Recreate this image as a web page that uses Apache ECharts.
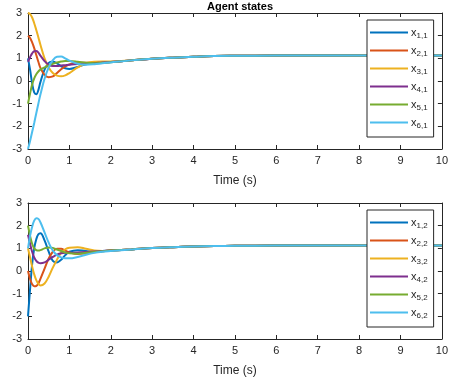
<!DOCTYPE html>
<html><head><meta charset="utf-8">
<script src="https://cdn.jsdelivr.net/npm/echarts@6/dist/echarts.min.js"></script>
<style>html,body{margin:0;padding:0;background:#fff}#c{width:451px;height:382px}</style>
</head><body><div id="c"></div>
<script>
const time = [0,0.05,0.1,0.15,0.2,0.25,0.3,0.4,0.5,0.6,0.7,0.8,0.9,1.0,1.2,1.4,1.6,1.8,2,2.5,3,3.5,4,4.5,5,6,7,8,9,10];
const tailTop = [0.91,0.98,1.03,1.07,1.10,1.11,1.12,1.12,1.12,1.12,1.12];
const tailBot = [0.95,1.01,1.05,1.08,1.10,1.11,1.12,1.12,1.12,1.12,1.12];

const x11 = [1.0,0.5,-0.1,-0.5,-0.58,-0.4,-0.05,0.5,0.8,0.85,0.78,0.65,0.56,0.53,0.62,0.74,0.79,0.82,0.84];
const x21 = [2.0,1.9,1.7,1.45,1.15,0.85,0.58,0.27,0.17,0.2,0.35,0.52,0.65,0.73,0.8,0.8,0.8,0.82,0.84];
const x31 = [3.0,2.95,2.8,2.55,2.25,1.93,1.6,1.0,0.6,0.35,0.24,0.21,0.25,0.35,0.6,0.78,0.85,0.86,0.86];
const x41 = [0.85,1.05,1.22,1.31,1.32,1.25,1.12,0.88,0.72,0.66,0.66,0.68,0.7,0.72,0.75,0.77,0.79,0.82,0.84];
const x51 = [-1.0,-0.55,-0.15,0.12,0.3,0.42,0.5,0.6,0.68,0.76,0.82,0.86,0.88,0.88,0.85,0.8,0.78,0.8,0.83];
const x61 = [-3.0,-2.65,-2.25,-1.85,-1.42,-1.0,-0.6,0.1,0.6,0.92,1.07,1.08,1.0,0.9,0.76,0.72,0.74,0.78,0.82];

const x12 = [-2.0,-0.8,0.3,1.0,1.4,1.62,1.67,1.35,0.85,0.45,0.38,0.5,0.7,0.85,0.92,0.88,0.86,0.88,0.9];
const x22 = [0.0,-0.35,-0.58,-0.67,-0.66,-0.55,-0.35,0.1,0.55,0.85,0.98,0.98,0.9,0.82,0.75,0.78,0.83,0.87,0.9];
const x32 = [1.0,0.6,0.2,-0.15,-0.4,-0.56,-0.64,-0.55,-0.25,0.15,0.5,0.8,0.96,1.03,1.05,0.98,0.9,0.88,0.9];
const x42 = [1.6,1.2,0.85,0.6,0.45,0.37,0.34,0.38,0.5,0.62,0.72,0.78,0.8,0.8,0.82,0.84,0.86,0.88,0.9];
const x52 = [2.0,1.55,1.2,1.0,0.92,0.9,0.92,1.0,1.04,1.02,0.95,0.88,0.82,0.78,0.76,0.8,0.84,0.87,0.9];
const x62 = [1.0,1.55,1.95,2.22,2.33,2.3,2.15,1.7,1.25,0.9,0.7,0.6,0.56,0.56,0.62,0.72,0.8,0.85,0.88];

const namesTop = ['x1,1','x2,1','x3,1','x4,1','x5,1','x6,1'];
const namesBot = ['x1,2','x2,2','x3,2','x4,2','x5,2','x6,2'];
const yTicks = [-3,-2,-1,0,1,2,3];
const xTicks = [0,1,2,3,4,5,6,7,8,9,10];

const colors = ['#0072BD','#D95319','#EDB120','#7E2F8E','#77AC30','#4DBEEE'];
const topData = [x11,x21,x31,x41,x51,x61].map(a => a.concat(tailTop));
const botData = [x12,x22,x32,x42,x52,x62].map(a => a.concat(tailBot));

const ink = '#262626';
const font = 'Liberation Sans, Arial, sans-serif';
const grids = [
  {left:28, right:9, top:13, height:136},
  {left:28, right:9, top:203, height:136}
];
function xAx(g, pos, show){
  return {type:'value', gridIndex:g, position:pos, min:xTicks[0], max:xTicks[xTicks.length-1], interval:1,
    name: show ? 'Time (s)' : '', nameLocation:'middle', nameGap:26,
    nameTextStyle:{color:ink, fontSize:12, fontFamily:font},
    axisLine:{show:true, onZero:false, lineStyle:{color:ink, width:1}},
    axisTick:{show:true, inside:true, length:4, lineStyle:{color:ink}},
    axisLabel:{show:show, color:ink, fontSize:11, fontFamily:font, margin:6},
    splitLine:{show:false}};
}
function yAx(g, pos, show){
  return {type:'value', gridIndex:g, position:pos, min:yTicks[0], max:yTicks[yTicks.length-1], interval:1,
    axisLine:{show:true, onZero:false, lineStyle:{color:ink, width:1}},
    axisTick:{show:true, inside:true, length:4, lineStyle:{color:ink}},
    axisLabel:{show:show, color:ink, fontSize:11, fontFamily:font, margin:6},
    splitLine:{show:false}};
}
const series = [];
topData.forEach((d,i)=>series.push({name:namesTop[i], type:'line', xAxisIndex:0, yAxisIndex:0,
  data: time.map((t,k)=>[t,d[k]]), smooth:0.4, showSymbol:false, symbol:'none',
  lineStyle:{width:2, color:colors[i]}, itemStyle:{color:colors[i]}}));
botData.forEach((d,i)=>series.push({name:namesBot[i], type:'line', xAxisIndex:2, yAxisIndex:2,
  data: time.map((t,k)=>[t,d[k]]), smooth:0.4, showSymbol:false, symbol:'none',
  lineStyle:{width:2, color:colors[i]}, itemStyle:{color:colors[i]}}));

function legend(top, names){
  return {orient:'vertical', left:367, top:top, width:74, data:names,
    backgroundColor:'#fff', borderColor:ink, borderWidth:1, padding:[7,6,7,3],
    itemWidth:38, itemHeight:10, itemGap:5, icon:'path://M0,4 L38,4 L38,6 L0,6 Z',
    formatter: n => 'x{s|' + n.slice(1) + '}',
    textStyle:{color:ink, fontSize:11, fontFamily:font, padding:[0,0,0,-2],
      rich:{s:{fontSize:8, fontFamily:font, color:ink, padding:[7,0,0,0]}}}};
}

const chart = echarts.init(document.getElementById('c'), null, {renderer:'canvas'});
chart.setOption({
  animation:false,
  backgroundColor:'#fff',
  title:{text:'Agent states', left:235, textAlign:'center', top:-4,
    textStyle:{fontSize:11, fontWeight:'bold', color:'#000', fontFamily:font}},
  grid:grids,
  xAxis:[xAx(0,'bottom',true), xAx(0,'top',false), xAx(1,'bottom',true), xAx(1,'top',false)],
  yAxis:[yAx(0,'left',true), yAx(0,'right',false), yAx(1,'left',true), yAx(1,'right',false)],
  legend:[legend(20,namesTop), legend(210,namesBot)],
  series:series
});
</script></body></html>
